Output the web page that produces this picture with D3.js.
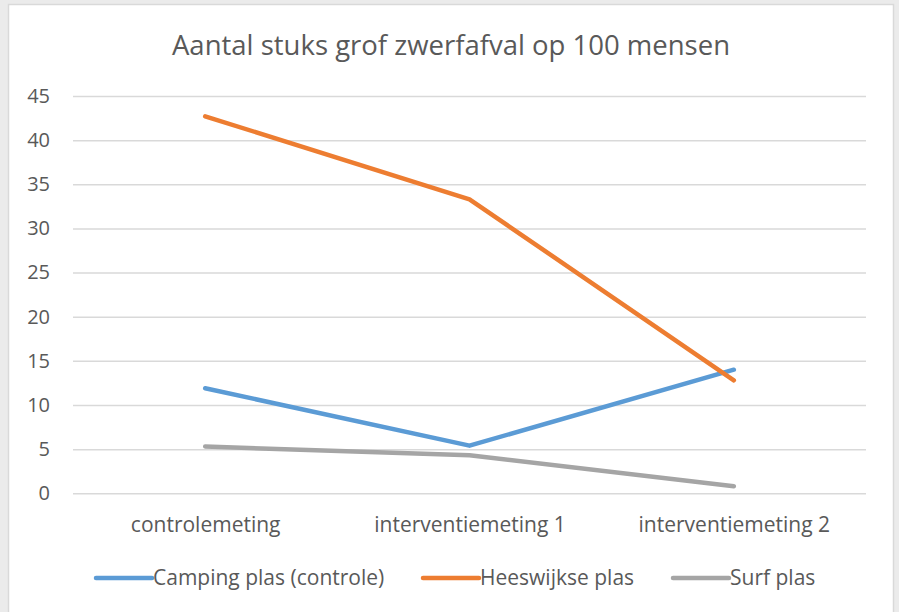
<!DOCTYPE html>
<html>
<head>
<meta charset="utf-8">
<script src="https://cdn.jsdelivr.net/npm/d3@7"></script>
<style>
  body { margin: 0; background: #ebebeb; }
  svg { display: block; font-family: 'Open Sans', sans-serif; }
</style>
</head>
<body>
<div id="chart"></div>
<script>
const categories = ['controlemeting', 'interventiemeting 1', 'interventiemeting 2']
const seriesNames = ['Camping plas (controle)', 'Heeswijkse plas', 'Surf plas']
const camping = [11.9, 5.4, 14.0]
const heeswijkse = [42.7, 33.3, 12.8]
const surf = [5.3, 4.3, 0.8]
const yTicks = [0, 5, 10, 15, 20, 25, 30, 35, 40, 45]
const colours = ['#5b9bd5', '#ed7d31', '#a5a5a5']

function draw() {
  const width = 899
  const height = 612
  const textColour = '#595959'

  const svg = d3.select('#chart')
    .append('svg')
    .attr('width', width)
    .attr('height', height)

  // chart area
  svg.append('rect')
    .attr('x', 8.5)
    .attr('y', 4.5)
    .attr('width', 885)
    .attr('height', 620)
    .attr('fill', 'white')
    .attr('stroke', '#d9d9d9')
    .attr('stroke-width', 1.5)

  const x = d3.scalePoint()
    .domain(categories)
    .range([73, 866])
    .padding(0.5)

  const y = d3.scaleLinear()
    .domain([0, 45])
    .range([493.3, 96])

  // title
  svg.append('text')
    .attr('x', 451)
    .attr('y', 55)
    .attr('text-anchor', 'middle')
    .attr('fill', textColour)
    .style('font-size', '27.5px')
    .text('Aantal stuks grof zwerfafval op 100 mensen')

  // gridlines + y labels
  const yAxis = d3.axisLeft(y)
    .tickValues(yTicks)
    .tickSize(-(866 - 73))
    .tickPadding(23)

  const yg = svg.append('g')
    .attr('transform', 'translate(73,0)')
    .call(yAxis)
  yg.select('.domain').remove()
  yg.selectAll('.tick line')
    .attr('stroke', '#d9d9d9')
    .attr('stroke-width', 1.5)
  yg.selectAll('.tick text')
    .attr('fill', textColour)
    .style('font-size', '20px')
    .style('font-family', "'Open Sans', sans-serif")

  // category labels
  const xAxis = d3.axisBottom(x).tickSize(0).tickPadding(0)
  const xg = svg.append('g')
    .attr('transform', 'translate(0,532)')
    .call(xAxis)
  xg.select('.domain').remove()
  xg.selectAll('.tick text')
    .attr('dy', 0)
    .attr('fill', textColour)
    .style('font-size', '21px')
    .style('font-family', "'Open Sans', sans-serif")

  // lines
  const allSeries = [camping, heeswijkse, surf]
  const line = d3.line()
    .x((d, i) => x(categories[i]))
    .y(d => y(d))

  svg.append('g')
    .selectAll('path')
    .data(allSeries)
    .join('path')
    .attr('d', line)
    .attr('fill', 'none')
    .attr('stroke', (d, i) => colours[i])
    .attr('stroke-width', 4.5)
    .attr('stroke-linecap', 'round')
    .attr('stroke-linejoin', 'round')

  // legend
  const legendX = [96, 423, 673]
  const legend = svg.append('g')
    .selectAll('g')
    .data(seriesNames)
    .join('g')
    .attr('transform', (d, i) => `translate(${legendX[i]},578)`)

  legend.append('line')
    .attr('x1', 0)
    .attr('x2', 56)
    .attr('stroke', (d, i) => colours[i])
    .attr('stroke-width', 4.5)
    .attr('stroke-linecap', 'round')

  legend.append('text')
    .attr('x', 57)
    .attr('dy', '0.35em')
    .attr('fill', textColour)
    .style('font-size', '21px')
    .text(d => d)
}

draw()
</script>
</body>
</html>
